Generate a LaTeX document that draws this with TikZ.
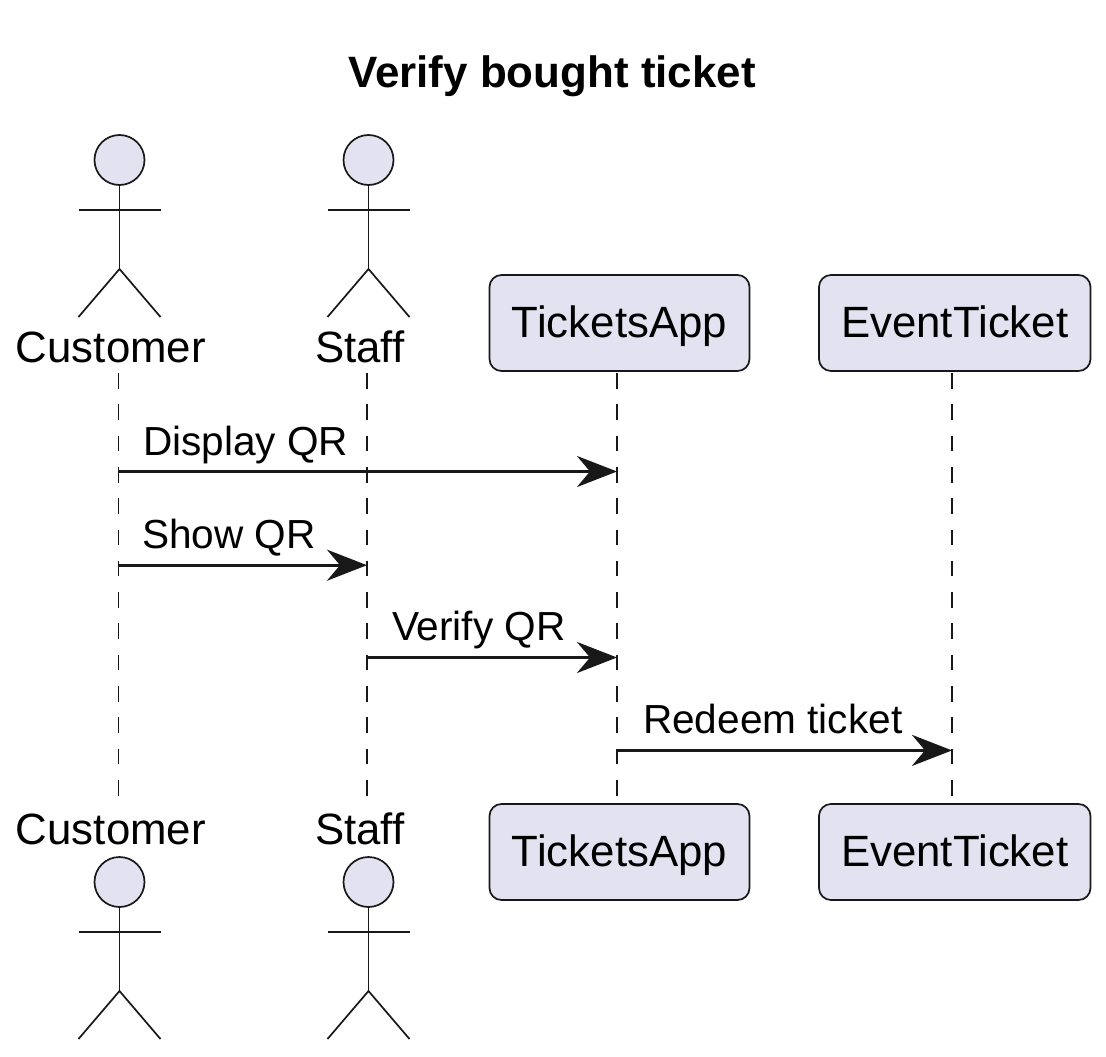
\documentclass[tikz,border=0pt]{standalone}
\usepackage{fontspec}
\setmainfont{Liberation Sans}
\usetikzlibrary{arrows.meta}
\definecolor{umlfill}{HTML}{E2E2F0}
\definecolor{umlline}{HTML}{181818}
\tikzset{
  x=1pt,y=-1pt,
  label text/.style={anchor=base west,inner sep=0pt,outer sep=0pt,text=black,font=\fontsize{43.8}{50}\selectfont},
  msg text/.style={anchor=base west,inner sep=0pt,outer sep=0pt,text=black,font=\fontsize{40.6}{46}\selectfont},
  title text/.style={anchor=base,inner sep=0pt,outer sep=0pt,text=black,font=\bfseries\fontsize{43.9}{50}\selectfont},
  partbox/.style={draw=umlline,fill=umlfill,line width=1.7pt,rounded corners=12pt,inner sep=0pt,outer sep=0pt,anchor=north west,font=\fontsize{43.8}{50}\selectfont,text=black,text height=37pt,text depth=8pt},
  head/.style={circle,draw=umlline,fill=umlfill,line width=1.7pt,minimum size=50pt,inner sep=0pt,outer sep=0pt},
  limb/.style={draw=umlline,line width=1.7pt},
  lifeline/.style={draw=umlline,line width=1.7pt,dash pattern=on 15.6pt off 15.7pt},
  msg/.style={draw=umlline,line width=3.2pt,-{Stealth[length=40pt,width=31pt,inset=13pt,color=umlline]}},
}
\newcommand{\stickman}[3]{%
  \node[head] (#1) at (#2,#3) {};
  \coordinate (#1neck) at (#2,#3+50);
  \coordinate (#1hip) at (#2,#3+109);
  \draw[limb] (#1.south) -- (#1hip);
  \draw[limb] (#2-41,#3+50) -- (#2+41,#3+50);
  \draw[limb] (#2-41,#3+157) -- (#1hip) -- (#2+41,#3+157);
}
\begin{document}
\begin{tikzpicture}
\useasboundingbox (0,0) rectangle (1106,1057);
\node[title text] (title) at (552,88) {Verify bought ticket};

% lifeline ends
\coordinate (cT) at (118.5,373); \coordinate (cB) at (118.5,795.5);
\coordinate (sT) at (367,373);   \coordinate (sB) at (367,795.5);
\coordinate (tT) at (617,373);   \coordinate (tB) at (617,795.5);
\coordinate (eT) at (952,373);   \coordinate (eB) at (952,795.5);
\draw[lifeline] (cT) -- (cB);
\draw[lifeline] (sT) -- (sB);
\draw[lifeline] (tT) -- (tB);
\draw[lifeline] (eT) -- (eB);

% top participants
\stickman{custTop}{119.5}{160}
\stickman{staffTop}{368.5}{160}
\node[label text] (custTopLabel) at (16,362.5) {Customer};
\node[label text] (staffTopLabel) at (315,362.5) {Staff};
\node[partbox,minimum width=260pt,minimum height=96pt] (appTop) at (489.5,275) {TicketsApp};
\node[partbox,minimum width=271.5pt,minimum height=96pt] (evtTop) at (819,275) {EventTicket};

% bottom participants
\node[label text] (custBotLabel) at (16,844) {Customer};
\node[label text] (staffBotLabel) at (315,844) {Staff};
\stickman{custBot}{119.5}{882}
\stickman{staffBot}{368.5}{882}
\node[partbox,minimum width=260pt,minimum height=96pt] (appBot) at (489.5,804) {TicketsApp};
\node[partbox,minimum width=271.5pt,minimum height=96pt] (evtBot) at (819,804) {EventTicket};

% messages
\coordinate (m1a) at (118.5,471.5); \coordinate (m1b) at (617,471.5);
\coordinate (m2a) at (118.5,565.2); \coordinate (m2b) at (367,565.2);
\coordinate (m3a) at (367,657.5); \coordinate (m3b) at (617,657.5);
\coordinate (m4a) at (617,750.4);   \coordinate (m4b) at (952,750.4);
\draw[msg] (m1a) -- (m1b);
\draw[msg] (m2a) -- (m2b);
\draw[msg] (m3a) -- (m3b);
\draw[msg] (m4a) -- (m4b);
\node[msg text] (l1) at (143,455) {Display QR};
\node[msg text] (l2) at (142,548) {Show QR};
\node[msg text] (l3) at (392,640.5) {Verify QR};
\node[msg text] (l4) at (643,733) {Redeem ticket};
\end{tikzpicture}
\end{document}
